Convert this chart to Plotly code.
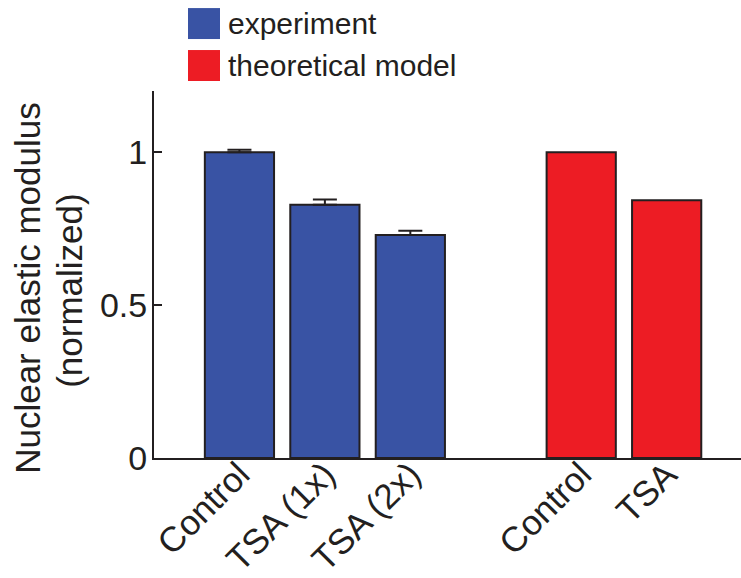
import plotly.graph_objects as go

# Data
exp_labels = ["Control", "TSA (1x)", "TSA (2x)"]
exp_values = [1.0, 0.828, 0.729]
exp_errors = [0.008, 0.017, 0.014]

model_labels = ["Control", "TSA"]
model_values = [1.0, 0.843]

exp_pos = [0, 1, 2]
model_pos = [4, 5]

y_ticks = [0, 0.5, 1]
y_ticktext = ["0", "0.5", "1"]

BLUE = "#3953A4"
RED = "#ED1C24"
INK = "#231F20"
FONT = "Liberation Sans, Arial, sans-serif"

fig = go.Figure()

fig.add_trace(go.Bar(
    x=exp_pos, y=exp_values, width=0.81,
    marker=dict(color=BLUE, line=dict(color=INK, width=2)),
    error_y=dict(type="data", array=exp_errors, arrayminus=[0, 0, 0],
                 symmetric=False, color=INK, thickness=2, width=12),
    showlegend=False,
))
fig.add_trace(go.Bar(
    x=model_pos, y=model_values, width=0.81,
    marker=dict(color=RED, line=dict(color=INK, width=2)),
    showlegend=False,
))

# Legend drawn as swatches with labels
legend_items = [("experiment", BLUE, 0), ("theoretical model", RED, 1)]
for text, color, i in legend_items:
    y0 = 8 + i * 42
    fig.add_shape(type="rect", xref="paper", yref="paper",
                  x0=(188 - 154) / 587, x1=(220 - 154) / 587,
                  y0=(458.3 - (y0 + 31)) / 367.3, y1=(458.3 - y0) / 367.3,
                  fillcolor=color, line=dict(width=0))
    fig.add_annotation(text=text, xref="paper", yref="paper",
                       x=(226 - 154) / 587, y=(458.3 - (y0 + 15.5)) / 367.3,
                       xanchor="left", yanchor="middle", showarrow=False,
                       font=dict(family=FONT, size=30, color=INK))

# Y axis title, two lines
fig.add_annotation(text="Nuclear elastic modulus", xref="paper", yref="paper",
                   x=(28 - 154) / 587, y=(458.3 - 288) / 367.3,
                   xanchor="center", yanchor="middle", textangle=-90,
                   showarrow=False, font=dict(family=FONT, size=35, color=INK))
fig.add_annotation(text="(normalized)", xref="paper", yref="paper",
                   x=(70 - 154) / 587, y=(458.3 - 291) / 367.3,
                   xanchor="center", yanchor="middle", textangle=-90,
                   showarrow=False, font=dict(family=FONT, size=35, color=INK))

fig.update_layout(
    width=741, height=578,
    margin=dict(l=154, r=0, t=91, b=120, autoexpand=False),
    paper_bgcolor="white", plot_bgcolor="white",
    barmode="overlay",
    font=dict(family=FONT, color=INK),
    xaxis=dict(
        range=[-1, 5.87],
        tickvals=exp_pos + model_pos,
        ticktext=exp_labels + model_labels,
        tickangle=-45,
        tickfont=dict(family=FONT, size=35, color=INK),
        ticklabelstandoff=-20,
        automargin=False,
        showline=True, linecolor=INK, linewidth=2,
        ticks="", showgrid=False, zeroline=False,
    ),
    yaxis=dict(
        range=[0, 1.2],
        tickvals=y_ticks, ticktext=y_ticktext,
        tickfont=dict(family=FONT, size=34, color=INK),
        ticklabelstandoff=-2,
        automargin=False,
        showline=True, linecolor=INK, linewidth=2,
        ticks="inside", ticklen=8, tickwidth=2, tickcolor=INK,
        showgrid=False, zeroline=False,
    ),
)

fig.write_html("out.html")
